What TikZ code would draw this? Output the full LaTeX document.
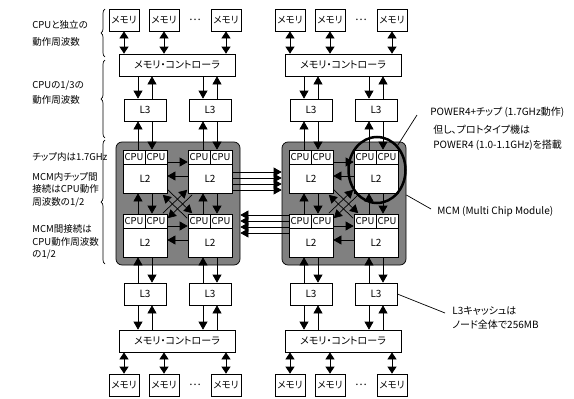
\documentclass[tikz,border=0pt]{standalone}
\usepackage{fontspec}
\setmainfont{Noto Sans CJK JP}[RawFeature=+palt]
\usetikzlibrary{arrows.meta,decorations.pathreplacing,shapes.geometric,calc}
\definecolor{mcmgray}{RGB}{128,128,128}
\newcommand\mkchip[3]{%
  \node[box,minimum width=22pt,minimum height=14pt] (#1-c1) at (#2+11,#3+7) {CPU};
  \node[box,minimum width=22pt,minimum height=14pt] (#1-c2) at (#2+33,#3+7) {CPU};
  \node[box,minimum width=44pt,minimum height=29pt,font=\fontsize{10}{11}\selectfont] (#1-l2) at (#2+22,#3+28.5) {L2};
}
\begin{document}
\begin{tikzpicture}[x=1pt,y=-1pt,line width=0.7pt,
  box/.style={draw,fill=white,inner sep=0pt,font=\fontsize{9.5}{10}\selectfont},
  membox/.style={box,minimum width=30pt,minimum height=22pt,font=\fontsize{9.5}{10}\selectfont},
  l3box/.style={box,minimum width=42pt,minimum height=22pt,font=\fontsize{10}{11}\selectfont},
  ctlbox/.style={box,minimum width=116pt,minimum height=22pt,font=\fontsize{10}{11}\selectfont},
  mcmbox/.style={draw,fill=mcmgray,rounded corners=6pt,minimum width=124pt,minimum height=123pt,inner sep=0pt},
  ar/.style={-{Triangle[length=8pt,width=9pt]}},
  dar/.style={{Triangle[length=7pt,width=9pt]}-{Triangle[length=7pt,width=9pt]}},
  lbl/.style={anchor=west,inner sep=0pt,align=left,font=\fontsize{10}{12.5}\selectfont},
  llbl/.style={lbl,font=\fontsize{9.5}{12.5}\selectfont},
  brc/.style={decorate,decoration={brace,amplitude=4pt}},
  ]
\useasboundingbox (0,0) rectangle (574,399);

\foreach \ox/\p in {0/L,166/R}{
  % MCM background
  \node[mcmbox] (\p mcm) at (\ox+178,203.5) {};
  % memories top
  \node[membox] (\p m1) at (\ox+124,20) {メモリ};
  \node[membox] (\p m2) at (\ox+164,20) {メモリ};
  \node[membox] (\p m3) at (\ox+226,20) {メモリ};
  \node[inner sep=0pt,font=\fontsize{11}{11}\selectfont] (\p dt) at (\ox+195,20) {…};
  % memories bottom
  \node[membox] (\p n1) at (\ox+124,385) {メモリ};
  \node[membox] (\p n2) at (\ox+164,385) {メモリ};
  \node[membox] (\p n3) at (\ox+226,385) {メモリ};
  \node[inner sep=0pt,font=\fontsize{11}{11}\selectfont] (\p db) at (\ox+195,385) {…};
  % controllers
  \node[ctlbox] (\p ctl) at (\ox+177,65) {メモリ・コントローラ};
  \node[ctlbox] (\p ctm) at (\ox+177,341) {メモリ・コントローラ};
  % L3
  \node[l3box] (\p l3a) at (\ox+145,110) {L3};
  \node[l3box] (\p l3b) at (\ox+210,110) {L3};
  \node[l3box] (\p l3c) at (\ox+145,294) {L3};
  \node[l3box] (\p l3d) at (\ox+210,294) {L3};
  % chips
  \mkchip{\p tl}{\ox+123}{150}
  \mkchip{\p tr}{\ox+188}{150}
  \mkchip{\p bl}{\ox+123}{214}
  \mkchip{\p br}{\ox+188}{214}
  % memory <-> controller
  \foreach \m in {1,2,3}{
    \draw[dar] (\p m\m.south) -- (\p m\m.south |- \p ctl.north);
    \draw[dar] (\p n\m.north) -- (\p n\m.north |- \p ctm.south);
  }
  % controller <-> L3 (top)
  \draw[ar] (\ox+138,0 |- \p ctl.south) -- (\ox+138,0 |- \p l3a.north);
  \draw[ar] (\ox+152,0 |- \p l3a.north) -- (\ox+152,0 |- \p ctl.south);
  \draw[ar] (\ox+203,0 |- \p ctl.south) -- (\ox+203,0 |- \p l3b.north);
  \draw[ar] (\ox+217,0 |- \p l3b.north) -- (\ox+217,0 |- \p ctl.south);
  % L3 <-> top chips
  \draw[ar] (\ox+138,0 |- \p tl-c1.north) -- (\ox+138,0 |- \p l3a.south);
  \draw[ar] (\ox+152,0 |- \p l3a.south) -- (\ox+152,0 |- \p tl-c2.north);
  \draw[ar] (\ox+203,0 |- \p tr-c1.north) -- (\ox+203,0 |- \p l3b.south);
  \draw[ar] (\ox+217,0 |- \p l3b.south) -- (\ox+217,0 |- \p tr-c2.north);
  % top chips <-> bottom chips
  \draw[ar] (\ox+138,0 |- \p bl-c1.north) -- (\ox+138,0 |- \p tl-l2.south);
  \draw[ar] (\ox+152,0 |- \p tl-l2.south) -- (\ox+152,0 |- \p bl-c2.north);
  \draw[ar] (\ox+203,0 |- \p br-c1.north) -- (\ox+203,0 |- \p tr-l2.south);
  \draw[ar] (\ox+217,0 |- \p tr-l2.south) -- (\ox+217,0 |- \p br-c2.north);
  % bottom chips <-> lower L3
  \draw[ar] (\ox+138,0 |- \p l3c.north) -- (\ox+138,0 |- \p bl-l2.south);
  \draw[ar] (\ox+152,0 |- \p bl-l2.south) -- (\ox+152,0 |- \p l3c.north);
  \draw[ar] (\ox+203,0 |- \p l3d.north) -- (\ox+203,0 |- \p br-l2.south);
  \draw[ar] (\ox+217,0 |- \p br-l2.south) -- (\ox+217,0 |- \p l3d.north);
  % lower L3 <-> controller
  \draw[ar] (\ox+138,0 |- \p l3c.south) -- (\ox+138,0 |- \p ctm.north);
  \draw[ar] (\ox+152,0 |- \p ctm.north) -- (\ox+152,0 |- \p l3c.south);
  \draw[ar] (\ox+203,0 |- \p l3d.south) -- (\ox+203,0 |- \p ctm.north);
  \draw[ar] (\ox+217,0 |- \p ctm.north) -- (\ox+217,0 |- \p l3d.south);
  % horizontal chip links
  \draw[ar] (\p tl-c2.east |- 0,162) -- (\p tr-c1.west |- 0,162);
  \draw[ar] (\p tr-l2.west |- 0,176) -- (\p tl-l2.east |- 0,176);
  \draw[ar] (\p bl-c2.east |- 0,226) -- (\p br-c1.west |- 0,226);
  \draw[ar] (\p br-l2.west |- 0,240) -- (\p bl-l2.east |- 0,240);
  % diagonal links
  \draw[ar] ($(\p tl-l2.south east)+(0.5,-3.5)$) -- ($(\p br-c1.north west)+(4.5,-0.5)$);
  \draw[ar] ($(\p br-c1.north west)+(-0.5,4.5)$) -- ($(\p tl-l2.south east)+(-4.5,1.5)$);
  \draw[ar] ($(\p tr-l2.south west)+(4.5,1.5)$) -- ($(\p bl-c2.north east)+(0.5,4.5)$);
  \draw[ar] ($(\p bl-c2.north east)+(-4.5,-0.5)$) -- ($(\p tr-l2.south west)+(-0.5,-3.5)$);
}

% links between MCMs
\foreach \yy in {172,178,184,190}
  \draw[ar] (Ltr-l2.east |- 0,\yy) -- (Rmcm.west |- 0,\yy);
\foreach \yy in {215,221,227,233}
  \draw[ar] (Rbl-c1.west |- 0,\yy) -- (Lmcm.east |- 0,\yy);

% braces and left labels
\draw[brc] (105,57) -- (105,9);
\draw[brc] (105,138) -- (105,60);
\draw[brc] (105,264) -- (105,140);
\node[llbl,font=\fontsize{9.5}{17}\selectfont] (g1) at (32,33.5) {CPUと独立の\\動作周波数};
\node[llbl,font=\fontsize{9.5}{15}\selectfont] (g2) at (32,92.5) {CPUの1/3の\\動作周波数};
\node[llbl] (g3) at (32,157) {チップ内は1.7GHz};
\node[llbl] (g4) at (32,189.5) {MCM内チップ間\\接続はCPU動作\\周波数の1/2};
\node[llbl] (g5) at (32,242) {MCM間接続は\\CPU動作周波数\\の1/2};

% right annotations
\node[draw,ellipse,line width=2.5pt,minimum width=57pt,minimum height=66pt,inner sep=0pt] (circ) at (377,170) {};
\node[lbl] (pw) at (430,112) {POWER4+チップ (1.7GHz動作)};
\node[lbl,font=\fontsize{10}{15}\selectfont] (proto) at (433,138) {但し、プロトタイプ機は\\POWER4 (1.0-1.1GHz)を搭載};
\node[lbl] (mcmt) at (437,212) {MCM (Multi Chip Module)};
\node[lbl,font=\fontsize{10}{14}\selectfont] (l3t) at (452,318) {L3キャッシュは\\ノード全体で256MB};
\coordinate (pwl) at (417,115);
\coordinate (mcml) at (431,209);
\coordinate (l3l) at (445,313);
\draw (circ.50) -- (pwl);
\draw (Rmcm.east |- 0,195) -- (mcml);
\draw (Rl3d.east) -- (l3l);
\end{tikzpicture}
\end{document}
